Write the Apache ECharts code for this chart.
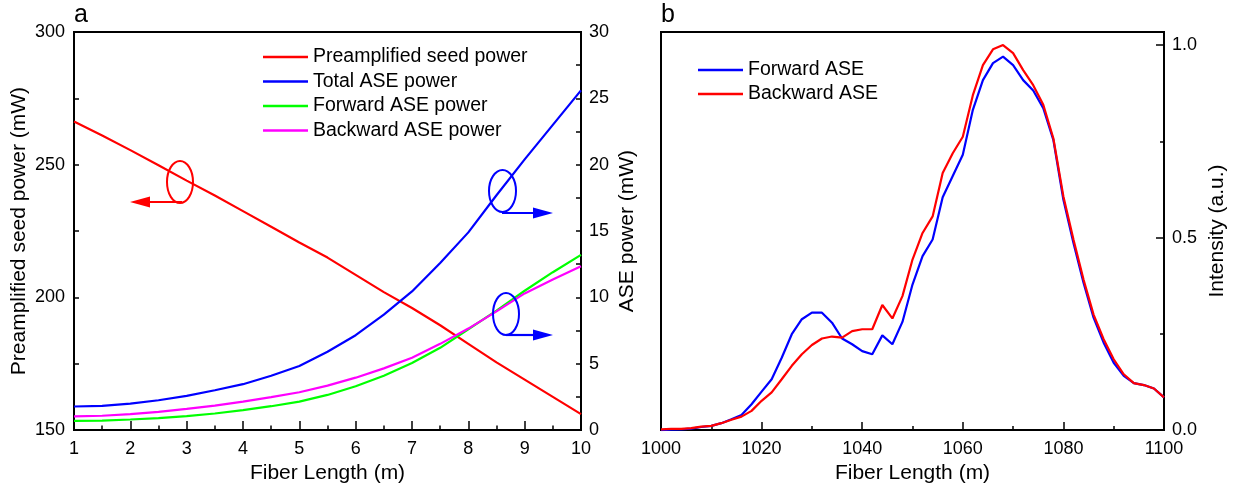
<!DOCTYPE html>
<html><head><meta charset="utf-8">
<script src="https://cdn.jsdelivr.net/npm/echarts@6/dist/echarts.min.js"></script>
<style>html,body{margin:0;padding:0;background:#fff}#c{width:1236px;height:489px}</style>
</head><body><div id="c"></div>
<script>
// ---- Panel a data ----
const fiberLength = [1,1.5,2,2.5,3,3.5,4,4.5,5,5.5,6,6.5,7,7.5,8,8.5,9,9.5,10];
const seedPower   = [266.3,261.0,255.5,249.8,244.0,238.4,232.5,226.6,220.7,215.0,208.5,202.0,196.0,189.5,182.5,175.5,169.0,162.5,156.0];
const totalASE    = [1.78,1.83,2.0,2.25,2.58,3.0,3.46,4.1,4.83,5.9,7.15,8.7,10.45,12.6,14.9,17.7,20.4,23.0,25.6];
const forwardASE  = [0.7,0.72,0.8,0.9,1.05,1.25,1.5,1.8,2.15,2.65,3.3,4.1,5.05,6.2,7.6,9.0,10.5,11.9,13.2];
const backwardASE = [1.03,1.08,1.2,1.38,1.6,1.85,2.15,2.48,2.85,3.35,3.95,4.65,5.45,6.5,7.65,8.95,10.3,11.35,12.35];
// ---- Panel b data ----
const wavelength = [1000,1002,1004,1006,1008,1010,1012,1014,1016,1018,1020,1022,1024,1026,1028,1030,1032,1034,1036,1038,1040,1042,1044,1046,1048,1050,1052,1054,1056,1058,1060,1062,1064,1066,1068,1070,1072,1074,1076,1078,1080,1082,1084,1086,1088,1090,1092,1094,1096,1098,1100];
const forwardSpec = [0,0.001,0.002,0.004,0.008,0.011,0.018,0.028,0.039,0.067,0.10,0.132,0.188,0.249,0.288,0.305,0.305,0.279,0.238,0.223,0.205,0.197,0.246,0.223,0.281,0.378,0.452,0.495,0.605,0.66,0.715,0.832,0.909,0.953,0.970,0.948,0.909,0.882,0.836,0.754,0.598,0.486,0.383,0.292,0.227,0.175,0.141,0.122,0.117,0.108,0.085];
const backwardSpec = [0.002,0.003,0.003,0.005,0.009,0.011,0.018,0.027,0.035,0.05,0.076,0.098,0.132,0.167,0.197,0.221,0.238,0.243,0.24,0.257,0.262,0.262,0.325,0.29,0.348,0.443,0.512,0.555,0.668,0.719,0.762,0.870,0.948,0.989,1.0,0.979,0.935,0.896,0.845,0.758,0.607,0.495,0.391,0.3,0.236,0.184,0.145,0.122,0.117,0.108,0.085];
const ticksB = [0, 0.5, 1.0];
const minorTicksB = [0.25, 0.75];

const FONT = '"Liberation Sans", Arial, sans-serif';
const pair = (xs, ys) => xs.map((x, i) => [x, ys[i]]);
const lineSeries = (name, xi, yi, data, color) => ({
  name, type: 'line', xAxisIndex: xi, yAxisIndex: yi, data, symbol: 'none', showSymbol: false,
  lineStyle: { color, width: 2.2 }, itemStyle: { color }, animation: false
});
const axLine = { show: true, lineStyle: { color: '#000', width: 2 } };
const lbl = { color: '#000', fontSize: 18, fontFamily: FONT };
const nameStyle = { color: '#000', fontSize: 21, fontFamily: FONT };
const legendText = { color: '#000', fontSize: 19.5, fontFamily: FONT, lineHeight: 20 };

const chart = echarts.init(document.getElementById('c'), null, { renderer: 'canvas' });
chart.setOption({
  backgroundColor: '#fff',
  animation: false,
  grid: [
    { left: 74, right: 655, top: 32, bottom: 58, show: true, borderColor: '#000', borderWidth: 2, containLabel: false },
    { left: 661, right: 72, top: 32, bottom: 58, show: true, borderColor: '#000', borderWidth: 2, containLabel: false }
  ],
  legend: [
    { orient: 'vertical', left: 263, top: 47, padding: 0, icon: 'rect', itemWidth: 45, itemHeight: 2.4, itemGap: 4.5,
      textStyle: legendText,
      data: ['Preamplified seed power', 'Total ASE power', 'Forward ASE power', 'Backward ASE power'] },
    { orient: 'vertical', left: 698, top: 60, padding: 0, icon: 'rect', itemWidth: 45, itemHeight: 2.4, itemGap: 4,
      textStyle: legendText,
      data: ['Forward ASE', 'Backward ASE'] }
  ],
  xAxis: [
    { gridIndex: 0, type: 'value', min: 1, max: 10, interval: 1,
      name: 'Fiber Length (m)', nameLocation: 'middle', nameGap: 29, nameTextStyle: nameStyle,
      axisLine: axLine, axisTick: { inside: true, length: 9, lineStyle: { color: '#000', width: 1.5 } },
      minorTick: { show: true, splitNumber: 2, length: 4.5, lineStyle: { color: '#000', width: 1.5 } },
      axisLabel: Object.assign({ margin: 10, formatter: v => String(v) }, lbl), splitLine: { show: false } },
    { gridIndex: 1, type: 'value', min: 1000, max: 1100, interval: 20,
      name: 'Fiber Length (m)', nameLocation: 'middle', nameGap: 29, nameTextStyle: nameStyle,
      axisLine: axLine, axisTick: { inside: true, length: 8, lineStyle: { color: '#000', width: 1.5 } },
      minorTick: { show: true, splitNumber: 2, length: 4, lineStyle: { color: '#000', width: 1.5 } },
      axisLabel: Object.assign({ margin: 10, formatter: v => String(v) }, lbl), splitLine: { show: false } }
  ],
  yAxis: [
    { gridIndex: 0, type: 'value', position: 'left', min: 150, max: 300, interval: 50,
      name: 'Preamplified seed power (mW)', nameLocation: 'middle', nameGap: 44, nameTextStyle: nameStyle,
      axisLine: axLine, axisTick: { inside: true, length: 5, lineStyle: { color: '#000', width: 1.5 } },
      minorTick: { show: true, splitNumber: 2, length: 5, lineStyle: { color: '#000', width: 1.5 } },
      axisLabel: Object.assign({ margin: 9 }, lbl), splitLine: { show: false } },
    { gridIndex: 0, type: 'value', position: 'right', min: 0, max: 30, interval: 5,
      name: 'ASE power (mW)', nameLocation: 'middle', nameGap: 36, nameTextStyle: nameStyle,
      axisLine: axLine, axisTick: { inside: true, length: 5, lineStyle: { color: '#000', width: 1.5 } },
      minorTick: { show: true, splitNumber: 2, length: 5, lineStyle: { color: '#000', width: 1.5 } },
      axisLabel: Object.assign({ margin: 8 }, lbl), splitLine: { show: false } },
    { gridIndex: 1, type: 'value', position: 'right', min: 0, max: 1.034,
      name: 'Intensity (a.u.)', nameLocation: 'middle', nameGap: 43, nameTextStyle: nameStyle,
      axisLine: axLine,
      axisTick: { inside: true, length: 8, customValues: ticksB, lineStyle: { color: '#000', width: 1.5 } },
      axisLabel: Object.assign({ margin: 8, customValues: ticksB, formatter: v => v.toFixed(1) }, lbl),
      splitLine: { show: false } },
    { gridIndex: 1, type: 'value', position: 'right', min: 0, max: 1.034,
      axisLine: { show: false },
      axisTick: { inside: true, length: 4, customValues: minorTicksB, lineStyle: { color: '#000', width: 1.5 } },
      axisLabel: { show: false }, splitLine: { show: false } }
  ],
  series: [
    lineSeries('Preamplified seed power', 0, 0, pair(fiberLength, seedPower), '#ff0000'),
    lineSeries('Total ASE power', 0, 1, pair(fiberLength, totalASE), '#0000ff'),
    lineSeries('Forward ASE power', 0, 1, pair(fiberLength, forwardASE), '#00ff00'),
    lineSeries('Backward ASE power', 0, 1, pair(fiberLength, backwardASE), '#ff00ff'),
    lineSeries('Forward ASE', 1, 2, pair(wavelength, forwardSpec), '#0000ff'),
    lineSeries('Backward ASE', 1, 2, pair(wavelength, backwardSpec), '#ff0000')
  ],
  graphic: [
    { type: 'text', left: 74, top: 3, style: { text: 'a', fontSize: 25, fontFamily: FONT, fill: '#000' } },
    { type: 'text', left: 661, top: 3, style: { text: 'b', fontSize: 25, fontFamily: FONT, fill: '#000' } },
    // red annotation
    { type: 'ellipse', shape: { cx: 180, cy: 182, rx: 13, ry: 21 }, style: { fill: 'none', stroke: '#ff0000', lineWidth: 2 }, z: 10 },
    { type: 'line', shape: { x1: 182, y1: 202, x2: 146, y2: 202 }, style: { stroke: '#ff0000', lineWidth: 2.2 }, z: 10 },
    { type: 'polygon', shape: { points: [[130, 202], [150, 196.5], [150, 207.5]] }, style: { fill: '#ff0000' }, z: 10 },
    // blue annotation 1
    { type: 'ellipse', shape: { cx: 502.5, cy: 191, rx: 13.5, ry: 21 }, style: { fill: 'none', stroke: '#0000ff', lineWidth: 2 }, z: 10 },
    { type: 'line', shape: { x1: 502, y1: 213, x2: 537, y2: 213 }, style: { stroke: '#0000ff', lineWidth: 2.2 }, z: 10 },
    { type: 'polygon', shape: { points: [[553, 213], [533, 207.5], [533, 218.5]] }, style: { fill: '#0000ff' }, z: 10 },
    // blue annotation 2
    { type: 'ellipse', shape: { cx: 506, cy: 314, rx: 13, ry: 21 }, style: { fill: 'none', stroke: '#0000ff', lineWidth: 2 }, z: 10 },
    { type: 'line', shape: { x1: 506, y1: 335, x2: 537, y2: 335 }, style: { stroke: '#0000ff', lineWidth: 2.2 }, z: 10 },
    { type: 'polygon', shape: { points: [[553, 335], [533, 329.5], [533, 340.5]] }, style: { fill: '#0000ff' }, z: 10 }
  ]
});
</script></body></html>
